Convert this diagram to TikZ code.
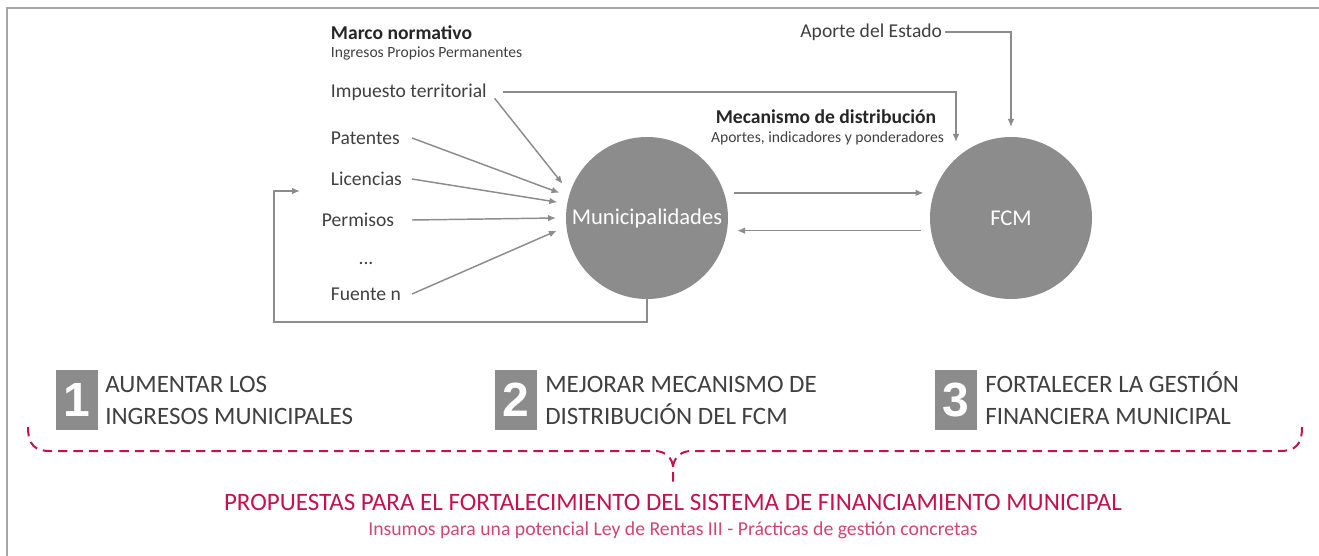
\documentclass[tikz,border=0pt]{standalone}
\usepackage{fontspec}
\setmainfont{Carlito}
\newfontfamily\numfont{Liberation Sans}
\usetikzlibrary{positioning, calc, arrows.meta}
\definecolor{flowgray}{HTML}{8C8C8C}
\definecolor{framegray}{HTML}{A6A6A6}
\definecolor{labelgray}{HTML}{404040}
\definecolor{crimson}{HTML}{C4124C}
\definecolor{rose}{HTML}{D0476F}
\tikzstyle{Arrow} = [
%flechas grises del esquema:
draw=flowgray, line width=1.1pt,
-{Latex[length=6pt, width=5pt]}
]

\begin{document}
\begin{tikzpicture}[x=0.75pt, y=-0.75pt,
			source/.style = {anchor=west, text=labelgray, inner sep=2pt, font=\fontsize{14.7}{17}\selectfont},
			heading/.style = {anchor=west, text=black!85, inner sep=2pt, font=\bfseries\fontsize{14.7}{17}\selectfont},
			note/.style = {text=labelgray, inner sep=2pt, font=\fontsize{11.7}{14}\selectfont},
			entity/.style = {circle, fill=flowgray, text=white, minimum size=121.5pt, inner sep=0pt, outer sep=7.5pt, font=\fontsize{16.9}{20}\selectfont},
			numbox/.style = {fill=flowgray, text=white, minimum width=31.5pt, minimum height=45pt, inner sep=0pt, font=\numfont\bfseries\fontsize{36}{36}\selectfont},
			goal/.style = {anchor=base west, align=left, text=labelgray, inner sep=0pt, font=\fontsize{18.75}{24}\selectfont},
			brace/.style = {draw=crimson, line width=1.5pt, dash pattern=on 7pt off 4.5pt},
		]
		\useasboundingbox (0,0) rectangle (1319,556);
		\draw[framegray, line width=1.5pt] (7,556) -- (7,8) -- (1319,8);

		\node[heading](marco) at (328,33){Marco normativo};
		\node[note, anchor=west](marcosub) at (328,53){Ingresos Propios Permanentes};
		\node[source](impuesto) at (328,92){Impuesto territorial};
		\node[source](patentes) at (328,138){Patentes};
		\node[source](licencias) at (328,179){Licencias};
		\node[source](permisos) at (319,220){Permisos};
		\node[source, anchor=center](dots) at (366,263){...};
		\node[source](fuente) at (328,294){Fuente n};

		\node[source, anchor=east](aporte) at (945,32){Aporte del Estado};
		\node[heading, anchor=east](mecanismo) at (939,117){Mecanismo de distribución};
		\node[note, anchor=east](mecsub) at (947,138){Aportes, indicadores y ponderadores};

		\node[entity](muni) at (647,218){Municipalidades};
		\node[entity](fcm) at (1011,218){FCM};

		\coordinate(srccol) at (412,0);
		\coordinate(impcol) at (503,0);
		\coordinate(mecin) at (956,142);
		\coordinate(loopcorner) at (274,322);
		\coordinate(fb) at (300,191);

		\draw[Arrow](impuesto.east -| impcol) -| (mecin);
		\draw[Arrow](aporte.east) -| (fcm.north);
		\draw[Arrow, shorten <=6pt](impuesto.east) -- (muni.158);
		\draw[Arrow](patentes.east -| srccol) -- (muni.164);
		\draw[Arrow](licencias.east -| srccol) -- (muni.170);
		\draw[Arrow](permisos.east -| srccol) -- (muni.180);
		\draw[Arrow](fuente.east -| srccol) -- (muni.188);
		\draw[Arrow](muni.16) -- (fcm.164);
		\draw[Arrow](fcm.188) -- (muni.-8);
		\draw[Arrow, shorten <=-7.5pt](muni.south) |- (loopcorner) |- (fb);

		\node[numbox](n1) at (77,400){1};
		\node[goal](g1) at (105,424){AUMENTAR LOS\\INGRESOS MUNICIPALES};
		\node[numbox](n2) at (516,400){2};
		\node[goal](g2) at (545,424){MEJORAR MECANISMO DE\\DISTRIBUCIÓN DEL FCM};
		\node[numbox](n3) at (956,400){3};
		\node[goal](g3) at (985,424){FORTALECER LA GESTIÓN\\FINANCIERA MUNICIPAL};

		\draw[brace] (28,427) .. controls (28,445) and (35,451) .. (50,451) -- (655,451)
			.. controls (665,451) and (673,458) .. (673,468) -- (673,483);
		\draw[brace] (1302,427) .. controls (1302,445) and (1295,451) .. (1280,451) -- (691,451)
			.. controls (681,451) and (673,458) .. (673,468);

		\node[text=crimson, font=\fontsize{18.75}{22}\selectfont](titulo) at (673,502){PROPUESTAS PARA EL FORTALECIMIENTO DEL SISTEMA DE FINANCIAMIENTO MUNICIPAL};
		\node[text=rose, font=\fontsize{14.8}{17}\selectfont](subtitulo) at (673,530){Insumos para una potencial Ley de Rentas III - Prácticas de gestión concretas};
	\end{tikzpicture}
\end{document}
